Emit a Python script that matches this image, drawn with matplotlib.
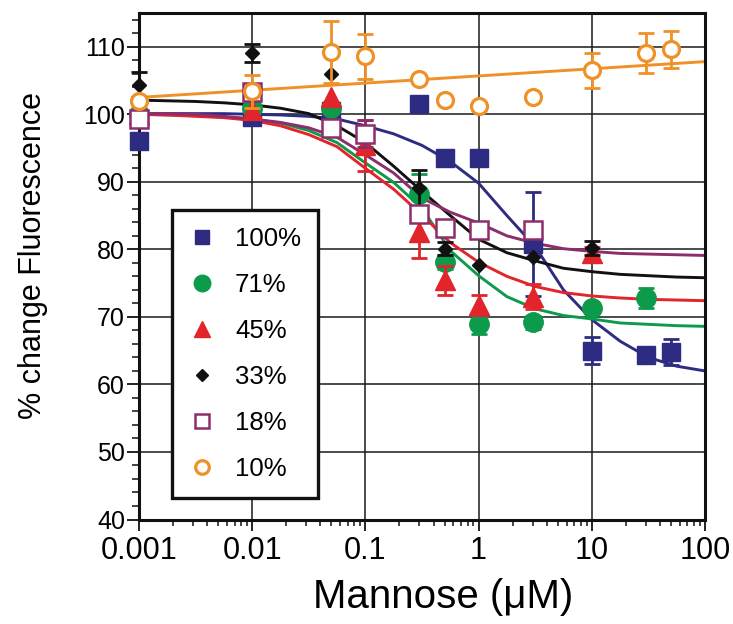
import matplotlib
matplotlib.use('Agg')

import matplotlib.pyplot as plt
from matplotlib.lines import Line2D
from matplotlib.ticker import FixedLocator, MultipleLocator, LogLocator, NullFormatter

plt.rcParams['font.family'] = ['Liberation Sans', 'DejaVu Sans']

# ---------------------------------------------------------------------------
# Data
# ---------------------------------------------------------------------------
labels = ['100%', '71%', '45%', '33%', '18%', '10%']

x_100 = [0.001, 0.01, 0.05, 0.3, 0.5, 1, 3, 10, 30, 50]
y_100 = [96.0, 99.6, 100.5, 101.5, 93.6, 93.5, 80.8, 65.0, 64.4, 64.8]
e_100 = [0, 0, 0, 0, 0, 0, 7.7, 2.0, 0, 1.9]

x_71 = [0.001, 0.01, 0.05, 0.3, 0.5, 1, 3, 10, 30]
y_71 = [100.0, 100.9, 101.0, 88.2, 78.1, 68.9, 69.2, 71.3, 72.8]
e_71 = [0, 0, 0, 3.0, 1.0, 1.4, 1.0, 0, 1.5]

x_45 = [0.001, 0.01, 0.05, 0.1, 0.3, 0.5, 1, 3, 10]
y_45 = [100.0, 100.7, 102.6, 95.4, 82.5, 75.4, 71.8, 73.0, 79.4]
e_45 = [0, 0, 0, 3.8, 3.8, 2.2, 1.5, 1.9, 1.0]

x_33 = [0.001, 0.01, 0.05, 0.3, 0.5, 1, 3, 10]
y_33 = [104.4, 109.1, 106.0, 89.1, 80.1, 77.7, 78.8, 80.2]
e_33 = [1.9, 1.3, 0, 2.7, 1.0, 0, 0, 1.0]

x_18 = [0.001, 0.01, 0.05, 0.1, 0.3, 0.5, 1, 3]
y_18 = [99.3, 103.3, 98.0, 97.1, 85.3, 83.1, 82.8, 82.8]
e_18 = [0, 0, 0, 2.0, 0, 0, 0, 0]

x_10 = [0.001, 0.01, 0.05, 0.1, 0.3, 0.5, 1, 3, 10, 30, 50]
y_10 = [101.9, 103.4, 109.2, 108.6, 105.3, 102.1, 101.2, 102.5, 106.5, 109.1, 109.6]
e_10 = [0, 2.4, 4.6, 3.3, 0, 0, 0, 0, 2.6, 3.0, 2.8]

# fitted curves, sampled every quarter decade
fit_x = [0.001, 0.00178, 0.00316, 0.00562, 0.01, 0.0178, 0.0316, 0.0562, 0.1,
         0.178, 0.316, 0.562, 1, 1.78, 3.16, 5.62, 10, 17.8, 31.6, 56.2, 100]
fit_100 = [100.1, 100.1, 100.1, 100.1, 100.0, 99.9, 99.7, 99.3, 98.3, 97.1, 95.4,
           93.0, 89.8, 85.0, 80.4, 74.0, 69.6, 66.4, 64.0, 62.7, 62.0]
fit_71 = [100.0, 99.9, 99.8, 99.6, 99.3, 98.7, 97.6, 95.8, 92.8, 89.9, 86.1,
          79.8, 76.1, 73.0, 71.2, 70.2, 69.7, 69.1, 68.9, 68.7, 68.6]
fit_45 = [100.0, 99.9, 99.7, 99.5, 99.1, 98.3, 97.0, 95.2, 92.0, 88.9, 85.1,
          81.0, 78.1, 76.0, 74.5, 73.6, 73.1, 72.8, 72.6, 72.5, 72.4]
fit_33 = [102.1, 102.0, 101.9, 101.7, 101.4, 100.9, 100.1, 98.3, 95.8, 92.3, 88.6,
          85.0, 81.5, 79.5, 78.3, 77.2, 76.7, 76.3, 76.1, 75.9, 75.8]
fit_18 = [100.1, 100.1, 100.0, 99.7, 99.3, 98.8, 98.0, 96.6, 94.0, 91.3, 87.6,
          85.5, 83.9, 82.0, 80.9, 80.1, 79.7, 79.4, 79.3, 79.2, 79.1]
fit_10_x = [0.001, 100]
fit_10 = [102.5, 107.8]

colors = ['#2D2C82', '#0C9A4B', '#E2242B', '#111111', '#8C2D6C', '#EF9127']

series = [
    (x_100, y_100, e_100, fit_x, fit_100, dict(marker='s', ms=12.5, mfc=colors[0], mec=colors[0], mew=1)),
    (x_71, y_71, e_71, fit_x, fit_71, dict(marker='o', ms=14, mfc=colors[1], mec=colors[1], mew=1)),
    (x_45, y_45, e_45, fit_x, fit_45, dict(marker='^', ms=14, mfc=colors[2], mec=colors[2], mew=1)),
    (x_33, y_33, e_33, fit_x, fit_33, dict(marker='D', ms=7.5, mfc=colors[3], mec=colors[3], mew=1)),
    (x_18, y_18, e_18, fit_x, fit_18, dict(marker='s', ms=12.5, mfc='white', mec=colors[4], mew=1.8)),
    (x_10, y_10, e_10, fit_10_x, fit_10, dict(marker='o', ms=11.5, mfc='white', mec=colors[5], mew=2.3)),
]

# ---------------------------------------------------------------------------
# Figure
# ---------------------------------------------------------------------------
fig = plt.figure(figsize=(7.33, 6.24), dpi=100)
ax = fig.add_axes([139 / 733, 1 - 519.5 / 624, 566 / 733, 506.5 / 624])

for i, (xs, ys, es, fx, fy, mk) in enumerate(series):
    c = colors[i]
    z = 3 + i
    ax.plot(fx, fy, '-', color=c, lw=2.1, zorder=2.5)
    ex = [x for x, e in zip(xs, es) if e > 0]
    ey = [y for y, e in zip(ys, es) if e > 0]
    ee = [e for e in es if e > 0]
    if ee:
        eb = ax.errorbar(ex, ey, yerr=ee, fmt='none', ecolor=c, elinewidth=2,
                         capsize=6, capthick=2, zorder=z)
        for art in eb.get_children():
            art.set_clip_on(False)
    ax.plot(xs, ys, ls='none', zorder=z + 0.5, clip_on=False, **mk)

ax.set_xscale('log')
ax.set_xlim(0.001, 100)
ax.set_ylim(40, 115)

ax.xaxis.set_major_locator(FixedLocator([0.001, 0.01, 0.1, 1, 10, 100]))
ax.set_xticklabels(['0.001', '0.01', '0.1', '1', '10', '100'])
ax.xaxis.set_minor_locator(LogLocator(base=10, subs=range(2, 10)))
ax.xaxis.set_minor_formatter(NullFormatter())
ax.yaxis.set_major_locator(FixedLocator([40, 50, 60, 70, 80, 90, 100, 110]))
ax.yaxis.set_minor_locator(MultipleLocator(2))

ax.grid(True, which='major', color='#1a1a1a', lw=1.1)
ax.set_axisbelow(True)
for s in ax.spines.values():
    s.set_linewidth(2.2)
    s.set_color('#111111')
    s.set_zorder(2.6)

ax.tick_params(axis='both', which='both', direction='out', top=False, right=False,
               color='#111111')
ax.tick_params(axis='y', which='major', length=9, width=1.3, pad=1, labelsize=18)
ax.tick_params(axis='y', which='minor', length=5, width=1.1)
ax.tick_params(axis='x', which='major', length=8, width=1.3, pad=4, labelsize=22)
ax.tick_params(axis='x', which='minor', length=4, width=1.1)

ax.set_xlabel('Mannose (\u03bcM)', fontsize=29)
ax.xaxis.set_label_coords((443 - 139) / 566, -0.116)
ax.set_ylabel('% change Fluorescence', fontsize=22)
ax.yaxis.set_label_coords((33 - 139) / 566, 0.522)
ax.yaxis.label.set_va('center')

handles = [Line2D([], [], ls='none', **mk) for (_, _, _, _, _, mk) in series]
leg = ax.legend(handles, labels, loc='upper left', bbox_to_anchor=(0.0578, 0.611),
                borderaxespad=0, fontsize=18.5, frameon=True, fancybox=False,
                edgecolor='#111111', framealpha=1, handlelength=1.0,
                handletextpad=0.8, borderpad=0.66, labelspacing=0.86,
                markerscale=0.85)
leg.get_frame().set_linewidth(2.4)
leg.set_zorder(20)

fig.savefig('out.png', dpi=100, facecolor='white')
plt.close(fig)
